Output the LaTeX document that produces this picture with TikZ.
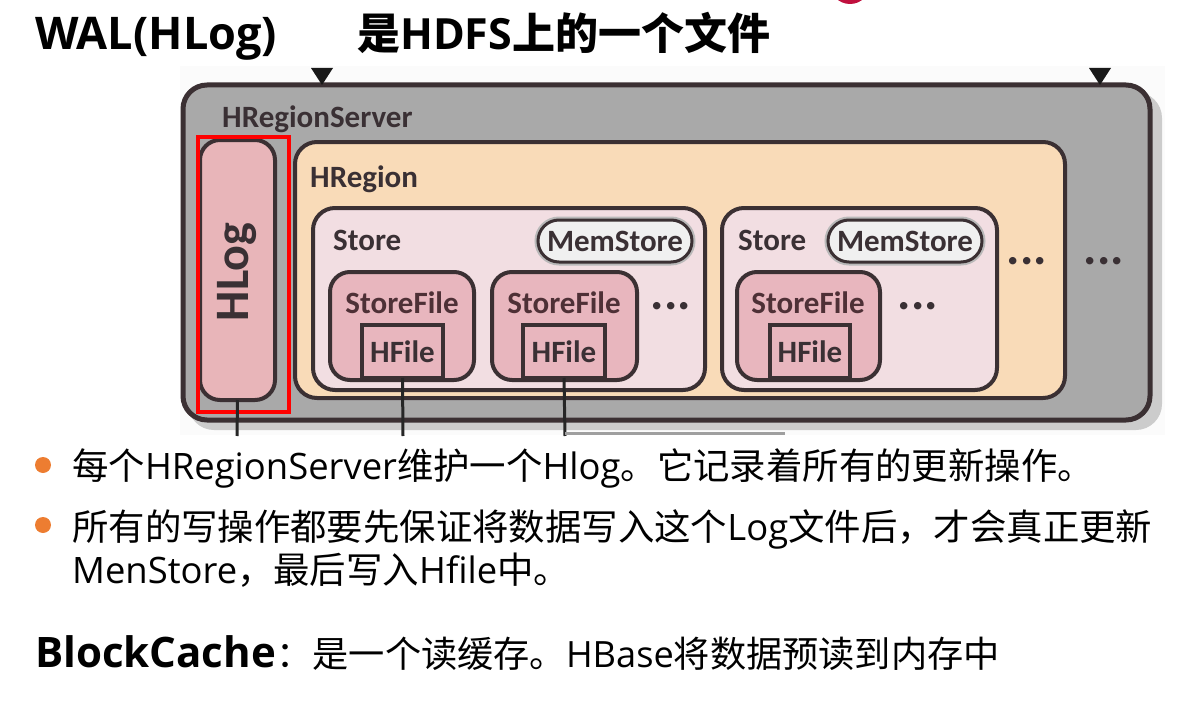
\documentclass[tikz,border=0pt]{standalone}
\usepackage{fontspec}
\setmainfont{Open Sans}
\newfontfamily\cjk{Noto Sans CJK SC}
\newfontfamily\dg{Carlito}
\usetikzlibrary{arrows.meta}
\definecolor{srvgray}{HTML}{A9A9A9}
\definecolor{edge}{HTML}{3B3033}
\definecolor{peach}{HTML}{F9DBB8}
\definecolor{storepink}{HTML}{F2DEE2}
\definecolor{filepink}{HTML}{E8B6BE}
\definecolor{logpink}{HTML}{E8B5B9}
\definecolor{bulletor}{HTML}{ED7D31}
\definecolor{lbl}{HTML}{3A3034}
\definecolor{sflbl}{HTML}{4E3036}
\definecolor{topred}{HTML}{C0103E}
\tikzset{
  boxbase/.style={draw=edge, anchor=north west, inner sep=0pt, outer sep=0pt},
  srvbox/.style={boxbase, line width=5pt, fill=srvgray, rounded corners=24pt},
  logbox/.style={boxbase, line width=4pt, fill=logpink, rounded corners=20pt},
  regbox/.style={boxbase, line width=4pt, fill=peach, rounded corners=22pt},
  storebox/.style={boxbase, line width=4pt, fill=storepink, rounded corners=22pt},
  memhalo/.style={draw=gray!55, line width=7pt, anchor=north west, inner sep=0pt, outer sep=0pt, rounded corners=21pt},
  membox/.style={boxbase, line width=3pt, fill=white!94!black, rounded corners=21pt},
  sfbox/.style={boxbase, line width=4pt, fill=filepink, rounded corners=20pt},
  hfbox/.style={boxbase, line width=3.5pt, fill=filepink},
  redbox/.style={draw=red, line width=3.5pt, anchor=north west, inner sep=0pt},
  dlabel/.style={text=lbl, inner sep=0pt, font=\dg\bfseries\fontsize{31}{36}\selectfont},
  sflabel/.style={text=sflbl, inner sep=0pt, font=\dg\bfseries\fontsize{31}{36}\selectfont},
  dots/.style={text=lbl, inner sep=0pt, font=\dg\bfseries\fontsize{50}{50}\selectfont},
  wire/.style={draw=black!85, line width=3pt},
  txt/.style={anchor=base west, inner sep=0pt, font=\fontsize{36.4}{44}\selectfont},
  bul/.style={circle, fill=bulletor, minimum size=16pt, inner sep=0pt},
  tip/.style={fill=black!90}
}
\begin{document}
\begin{tikzpicture}[x=1pt,y=-1pt]
\useasboundingbox (0,0) rectangle (1187,717);
% image background and shadow
\fill[white!97!gray] (180,66) rectangle (1165,435);
\fill[gray!40, rounded corners=26pt] (188,92) rectangle (1162,430);
\fill[topred] (850,-16) circle (20);
% title
\node[anchor=base west, inner sep=0pt, font=\bfseries\fontsize{45}{50}\selectfont] (title1) at (35,50) {WAL(HLog)};
\node[anchor=base west, inner sep=0pt, font=\bfseries\fontsize{43}{50}\selectfont] (title2) at (357,50) {{\cjk 是}HDFS{\cjk 上的一个文件}};
% diagram boxes
\node[srvbox, minimum width=967pt, minimum height=335pt] (hrs) at (183,85) {};
% top arrows (heads of incoming connectors)
\coordinate (in1) at (322,66);
\coordinate (in2) at (1100,66);
\fill[tip] (in1) ++(-11,2) -- ++(22,0) -- (in1 |- hrs.north) -- cycle;
\fill[tip] (in2) ++(-11,2) -- ++(22,0) -- (in2 |- hrs.north) -- cycle;
\node[dlabel, anchor=base west] (hrsl) at (222,128) {HRegionServer};
\node[logbox, minimum width=75pt, minimum height=260pt] (hlog) at (200,140) {};
\node[dlabel, rotate=90, font=\dg\bfseries\fontsize{48}{48}\selectfont] (hlogl) at ([yshift=-2pt]hlog.center) {HLog};
\node[redbox, minimum width=91pt, minimum height=275pt] (red) at (196,135) {};
\node[regbox, minimum width=770pt, minimum height=256pt] (hreg) at (295,142) {};
\node[dlabel, anchor=base west] (hregl) at (310,187) {HRegion};
% store 1
\node[storebox, minimum width=392pt, minimum height=182pt] (st1) at (313,208) {};
\node[dlabel, anchor=base west] (st1l) at (333,250) {Store};
\node[memhalo, minimum width=154pt, minimum height=42pt] (mh1) at (538,220) {};
\node[membox, minimum width=154pt, minimum height=42pt] (mem1) at (538,220) {};
\node[dlabel] (mem1l) at (mem1.center) {MemStore};
\node[sfbox, minimum width=144pt, minimum height=108pt] (sf1) at (330,272) {};
\node[hfbox, minimum width=81pt, minimum height=53pt] (hf1) at (362,325) {};
\node[sflabel] (sf1l) at (402,303) {StoreFile};
\node[dlabel] (hf1l) at (hf1.center) {HFile};
\node[sfbox, minimum width=145pt, minimum height=108pt] (sf2) at (492,272) {};
\node[hfbox, minimum width=82pt, minimum height=53pt] (hf2) at (523,325) {};
\node[sflabel] (sf2l) at (564,303) {StoreFile};
\node[dlabel] (hf2l) at (hf2.center) {HFile};
\node[dots] (d1) at (671,306) {...};
% store 2
\node[storebox, minimum width=275pt, minimum height=182pt] (st2) at (722,208) {};
\node[dlabel, anchor=base west] (st2l) at (738,250) {Store};
\node[memhalo, minimum width=154pt, minimum height=42pt] (mh2) at (828,220) {};
\node[membox, minimum width=154pt, minimum height=42pt] (mem2) at (828,220) {};
\node[dlabel] (mem2l) at (mem2.center) {MemStore};
\node[sfbox, minimum width=143pt, minimum height=108pt] (sf3) at (737,272) {};
\node[hfbox, minimum width=80pt, minimum height=53pt] (hf3) at (770,325) {};
\node[sflabel] (sf3l) at (808,303) {StoreFile};
\node[dlabel] (hf3l) at (hf3.center) {HFile};
\node[dots] (d2) at (918,306) {...};
\node[dots] (d3) at (1027,261) {...};
\node[dots] (d4) at (1104,261) {...};
% wires down
\coordinate (o1) at (237,436);
\coordinate (o2) at (403,436);
\coordinate (o3) at (565,436);
\coordinate (o4) at (785,433);
\draw[wire] (hlog.south) -- (o1);
\draw[wire] (hf1.south) -- (o2);
\draw[wire] (hf2.south) -- (o3);
\draw[draw=gray!75, line width=3pt] (o3 |- o4) -- (o4);
% bullets
\node[bul] (b1) at (43,465) {};
\node[txt] (l1) at (72,479) {{\cjk 每个}HRegionServer{\cjk 维护一个}Hlog{\cjk 。它记录着所有的更新操作。}};
\node[bul] (b2) at (43,525) {};
\node[txt] (l2) at (72,540) {{\cjk 所有的写操作都要先保证将数据写入这个}Log{\cjk 文件后，才会真正更新}};
\node[txt] (l3) at (72,583) {MenStore{\cjk ，最后写入}Hfile{\cjk 中。}};
\node[anchor=base west, inner sep=0pt, font=\bfseries\fontsize{42}{48}\selectfont] (bc) at (35,667) {BlockCache};
\node[txt, font=\fontsize{36.2}{44}\selectfont] (bct) at (bc.base east) {{\cjk ：是一个读缓存。}HBase{\cjk 将数据预读到内存中}};
\end{tikzpicture}
\end{document}
